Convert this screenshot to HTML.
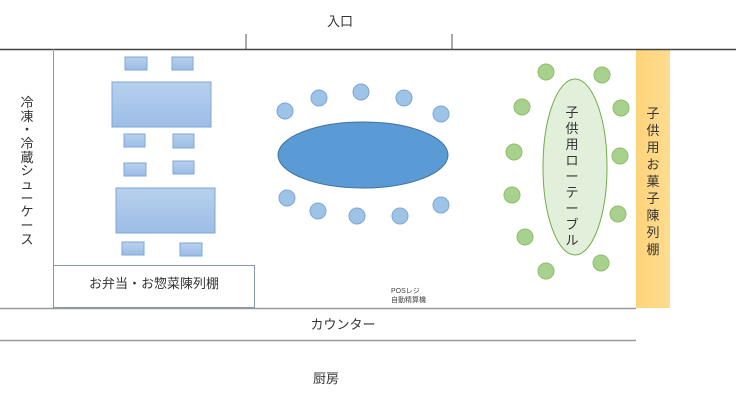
<!DOCTYPE html>
<html><head><meta charset="utf-8"><style>
html,body{margin:0;padding:0;background:#fff;}
svg{display:block;font-family:"Liberation Sans","Noto Sans CJK JP",sans-serif;}
</style></head><body>
<svg width="736" height="414" viewBox="0 0 736 414" xmlns="http://www.w3.org/2000/svg">
<defs>
<linearGradient id="b" x1="0" y1="0" x2="0" y2="1"><stop offset="0" stop-color="#b7d0ee"/><stop offset="1" stop-color="#9dbde6"/></linearGradient>
<linearGradient id="o" x1="0" y1="0" x2="1" y2="0"><stop offset="0" stop-color="#ffd37a"/><stop offset="1" stop-color="#ffdc90"/></linearGradient>
</defs>
<text x="340" y="26" font-size="13" text-anchor="middle" fill="#333">入口</text>
<line x1="246" y1="34" x2="246" y2="49" stroke="#555"/>
<line x1="452" y1="34" x2="452" y2="49" stroke="#555"/>
<rect x="636" y="49" width="34" height="259" fill="url(#o)"/>
<line x1="0" y1="49.5" x2="736" y2="49.5" stroke="#444" stroke-width="1.5"/>
<line x1="53.5" y1="49" x2="53.5" y2="308" stroke="#8497b0"/>
<rect x="53.5" y="265.5" width="201" height="42" fill="none" stroke="#8497b0"/>
<text x="154" y="288" font-size="13" text-anchor="middle" fill="#333">お弁当・お惣菜陳列棚</text>
<line x1="0" y1="308.5" x2="636" y2="308.5" stroke="#999" stroke-width="1.5"/>
<line x1="0" y1="340.5" x2="636" y2="340.5" stroke="#999" stroke-width="1.5"/>
<text x="343" y="329" font-size="13" text-anchor="middle" fill="#333">カウンター</text>
<text x="326" y="383" font-size="13" text-anchor="middle" fill="#333">厨房</text>
<g font-size="13" fill="#333" text-anchor="middle">
<text x="27" y="107">冷</text><text x="27" y="121">凍</text><text x="27" y="134">・</text><text x="27" y="148">冷</text><text x="27" y="162">蔵</text><text x="27" y="175">シ</text><text x="27" y="189">ュ</text><text x="27" y="203">ー</text><text x="27" y="216">ケ</text><text x="27" y="230">ー</text><text x="27" y="244">ス</text>
</g>
<g fill="url(#b)" stroke="#7ea6d8">
<rect x="125" y="57" width="22" height="13"/><rect x="172" y="57" width="21" height="13"/>
<rect x="112" y="82" width="99" height="45"/>
<rect x="124" y="134" width="21" height="13"/><rect x="173" y="134" width="21" height="14"/>
<rect x="124" y="163" width="22" height="13"/><rect x="173" y="161" width="21" height="13"/>
<rect x="116" y="188" width="99" height="45"/>
<rect x="122" y="242" width="22" height="13"/><rect x="180" y="243" width="22" height="13"/>
</g>
<ellipse cx="363" cy="155" rx="85" ry="33" fill="#5b9bd5" stroke="#41719c"/>
<g fill="#9dc3e6" stroke="#7ea6d8">
<circle cx="285" cy="111" r="8"/><circle cx="319" cy="98" r="8"/><circle cx="361" cy="92" r="8"/><circle cx="404" cy="98" r="8"/><circle cx="441" cy="114" r="8"/>
<circle cx="287" cy="198" r="8"/><circle cx="318" cy="211" r="8"/><circle cx="357" cy="216" r="8"/><circle cx="400" cy="216" r="8"/><circle cx="441" cy="205" r="8"/>
</g>
<text x="391" y="293" font-size="7" fill="#444">POSレジ</text>
<text x="391" y="302" font-size="7" fill="#444">自動精算機</text>
<ellipse cx="575" cy="167" rx="32" ry="88" fill="#e2efda" stroke="#70ad47"/>
<g fill="#a9d18e" stroke="#8cbf6c">
<circle cx="546" cy="72" r="8"/><circle cx="602" cy="75" r="8"/><circle cx="522" cy="107" r="8"/><circle cx="621" cy="108" r="8"/><circle cx="514" cy="152" r="8"/><circle cx="620" cy="156" r="8"/><circle cx="512" cy="195" r="8"/><circle cx="618" cy="214" r="8"/><circle cx="525" cy="237" r="8"/><circle cx="601" cy="263" r="8"/><circle cx="546" cy="271" r="8"/>
</g>
<g font-size="13" fill="#333" text-anchor="middle">
<text x="572" y="117">子</text><text x="572" y="133">供</text><text x="572" y="149">用</text><text x="572" y="165">ロ</text><text x="572" y="181">ー</text><text x="572" y="197">テ</text><text x="572" y="213">ー</text><text x="572" y="229">ブ</text><text x="572" y="245">ル</text>
</g>
<g font-size="13" fill="#333" text-anchor="middle">
<text x="653" y="118">子</text><text x="653" y="135">供</text><text x="653" y="152">用</text><text x="653" y="169">お</text><text x="653" y="186">菓</text><text x="653" y="203">子</text><text x="653" y="220">陳</text><text x="653" y="237">列</text><text x="653" y="254">棚</text>
</g>
</svg>
</body></html>
